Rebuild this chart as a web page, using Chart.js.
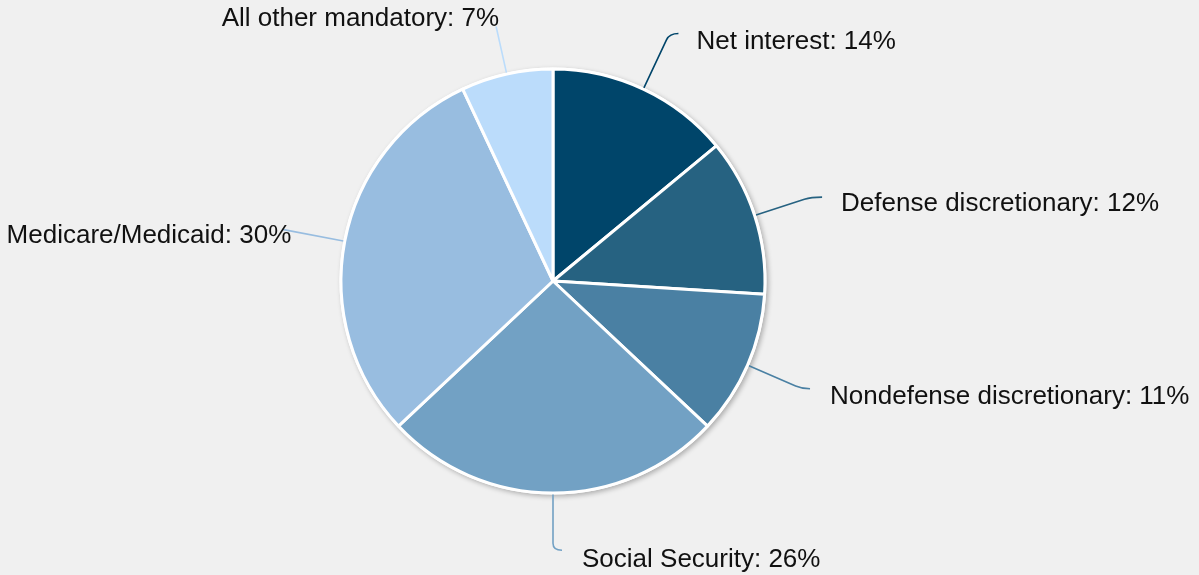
<!DOCTYPE html>
<html>
<head>
<meta charset="utf-8">
<script src="https://cdn.jsdelivr.net/npm/chart.js@4"></script>
<style>
  html, body { margin: 0; padding: 0; background: #f0f0f0; }
  #wrap { width: 1199px; height: 575px; position: relative; }
</style>
</head>
<body>
<div id="wrap"><canvas id="pieChart" width="1199" height="575"></canvas></div>
<script>
// datos del gráfico
var categories = ['Net interest', 'Defense discretionary', 'Nondefense discretionary',
                  'Social Security', 'Medicare/Medicaid', 'All other mandatory'];
var shares = [14, 12, 11, 26, 30, 7];
var sliceColors = ['#00456a', '#266281', '#4a80a3', '#72a1c4', '#98bde0', '#bbdcfb'];

// how far each leader line reaches (times radius), hook length and text nudge
var leaderReach = [1.29, 1.28, 1.28, 1.27, 1.30, 1.23];
var leaderHook = [9, 11, 8, 9, 0, 0];
var textNudge = [[18, 8], [19, 7], [20, 8], [20, 10], [9, 6], [3, -8]];

var pieShadow = {
    id: 'pieShadow',
    beforeDatasetsDraw: function(chart) {
        var arc = chart.getDatasetMeta(0).data[0];
        if (!arc) return;
        var ctx = chart.ctx;
        ctx.save();
        ctx.shadowColor = 'rgba(0,0,0,0.28)';
        ctx.shadowBlur = 5;
        ctx.shadowOffsetX = 2;
        ctx.shadowOffsetY = 2;
        ctx.fillStyle = '#ffffff';
        ctx.beginPath();
        ctx.arc(arc.x, arc.y, arc.outerRadius + 1.5, 0, Math.PI * 2);
        ctx.fill();
        ctx.restore();
    }
};

var leaderLabels = {
    id: 'leaderLabels',
    afterDatasetsDraw: function(chart) {
        var ctx = chart.ctx;
        var meta = chart.getDatasetMeta(0);
        ctx.save();
        ctx.font = '26px "Liberation Sans", Arial, sans-serif';
        ctx.fillStyle = '#111111';
        meta.data.forEach(function(arc, i) {
            var mid = (arc.startAngle + arc.endAngle) / 2;
            var dx = Math.cos(mid), dy = Math.sin(mid);
            var r = arc.outerRadius;
            var reach = leaderReach[i] * r;
            var sx = arc.x + dx * (r + 1.5), sy = arc.y + dy * (r + 1.5);
            var cx = arc.x + dx * reach, cy = arc.y + dy * reach;
            var right = dx > -0.2;
            var hook = leaderHook[i];
            ctx.strokeStyle = sliceColors[i];
            ctx.lineWidth = 1.6;
            ctx.beginPath();
            ctx.moveTo(sx, sy);
            var ex = cx, ey = cy;
            if (hook > 0) {
                ctx.lineTo(cx - dx * 7, cy - dy * 7);
                ex = cx + hook;
                ctx.quadraticCurveTo(cx, cy, ex, ey);
            } else {
                ctx.lineTo(cx, cy);
            }
            ctx.stroke();
            ctx.textBaseline = 'middle';
            ctx.textAlign = right ? 'left' : 'right';
            var label = categories[i] + ': ' + shares[i] + '%';
            ctx.fillText(label, ex + textNudge[i][0], ey + textNudge[i][1]);
        });
        ctx.restore();
    }
};

var ctx = document.getElementById('pieChart').getContext('2d');
var pieChart = new Chart(ctx, {
    type: 'pie',
    data: {
        labels: categories,
        datasets: [{
            data: shares,
            backgroundColor: sliceColors,
            borderColor: '#ffffff',
            borderWidth: 3
        }]
    },
    options: {
        responsive: false,
        maintainAspectRatio: false,
        animation: false,
        events: [],
        radius: 212,
        layout: { padding: { left: 0, right: 93, top: 0, bottom: 13 } },
        plugins: {
            legend: { display: false },
            tooltip: { enabled: false }
        }
    },
    plugins: [pieShadow, leaderLabels]
});
</script>
</body>
</html>
